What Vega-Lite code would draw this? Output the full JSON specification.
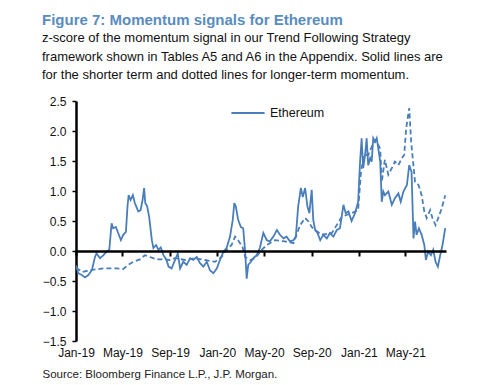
{
"$schema":"https://vega.github.io/schema/vega-lite/v6.json",
"width":370,"height":240,
"autosize":{"type":"none"},
"padding":{"left":76,"top":101,"right":54,"bottom":44},
"background":"white",
"config":{"view":{"stroke":null},"font":"Liberation Sans"},
"title":{"text":"Figure 7: Momentum signals for Ethereum","subtitle":["z-score of the momentum signal in our Trend Following Strategy","framework shown in Tables A5 and A6 in the Appendix. Solid lines are","for the shorter term and dotted lines for longer-term momentum."],"anchor":"start","frame":"group","dx":-34,"font":"Liberation Sans","fontSize":15,"fontWeight":"bold","color":"#5a8cc0","subtitleFont":"Liberation Sans","subtitleFontSize":13,"subtitleColor":"#111111","subtitlePadding":4,"subtitleLineHeight":18.3,"offset":13},
"data":{"values":[
{"date":"2019-01-01","value":-0.24,"term":"short","asset":"Ethereum"},
{"date":"2019-01-07","value":-0.37,"term":"short","asset":"Ethereum"},
{"date":"2019-01-16","value":-0.4,"term":"short","asset":"Ethereum"},
{"date":"2019-01-24","value":-0.44,"term":"short","asset":"Ethereum"},
{"date":"2019-02-02","value":-0.4,"term":"short","asset":"Ethereum"},
{"date":"2019-02-11","value":-0.32,"term":"short","asset":"Ethereum"},
{"date":"2019-02-19","value":-0.1,"term":"short","asset":"Ethereum"},
{"date":"2019-02-23","value":-0.04,"term":"short","asset":"Ethereum"},
{"date":"2019-03-04","value":-0.12,"term":"short","asset":"Ethereum"},
{"date":"2019-03-13","value":-0.07,"term":"short","asset":"Ethereum"},
{"date":"2019-03-21","value":-0.01,"term":"short","asset":"Ethereum"},
{"date":"2019-03-28","value":0.02,"term":"short","asset":"Ethereum"},
{"date":"2019-04-03","value":0.46,"term":"short","asset":"Ethereum"},
{"date":"2019-04-07","value":0.38,"term":"short","asset":"Ethereum"},
{"date":"2019-04-14","value":0.4,"term":"short","asset":"Ethereum"},
{"date":"2019-04-20","value":0.3,"term":"short","asset":"Ethereum"},
{"date":"2019-04-27","value":0.18,"term":"short","asset":"Ethereum"},
{"date":"2019-05-03","value":0.27,"term":"short","asset":"Ethereum"},
{"date":"2019-05-10","value":0.32,"term":"short","asset":"Ethereum"},
{"date":"2019-05-14","value":0.74,"term":"short","asset":"Ethereum"},
{"date":"2019-05-17","value":0.93,"term":"short","asset":"Ethereum"},
{"date":"2019-05-22","value":0.85,"term":"short","asset":"Ethereum"},
{"date":"2019-05-28","value":0.93,"term":"short","asset":"Ethereum"},
{"date":"2019-06-02","value":0.8,"term":"short","asset":"Ethereum"},
{"date":"2019-06-11","value":0.66,"term":"short","asset":"Ethereum"},
{"date":"2019-06-17","value":0.68,"term":"short","asset":"Ethereum"},
{"date":"2019-06-22","value":0.85,"term":"short","asset":"Ethereum"},
{"date":"2019-06-26","value":1.05,"term":"short","asset":"Ethereum"},
{"date":"2019-06-29","value":0.8,"term":"short","asset":"Ethereum"},
{"date":"2019-07-04","value":0.74,"term":"short","asset":"Ethereum"},
{"date":"2019-07-09","value":0.57,"term":"short","asset":"Ethereum"},
{"date":"2019-07-16","value":0.18,"term":"short","asset":"Ethereum"},
{"date":"2019-07-20","value":0.05,"term":"short","asset":"Ethereum"},
{"date":"2019-07-27","value":0.1,"term":"short","asset":"Ethereum"},
{"date":"2019-08-02","value":0.02,"term":"short","asset":"Ethereum"},
{"date":"2019-08-08","value":0.06,"term":"short","asset":"Ethereum"},
{"date":"2019-08-15","value":-0.07,"term":"short","asset":"Ethereum"},
{"date":"2019-08-23","value":-0.15,"term":"short","asset":"Ethereum"},
{"date":"2019-08-28","value":-0.26,"term":"short","asset":"Ethereum"},
{"date":"2019-09-05","value":-0.29,"term":"short","asset":"Ethereum"},
{"date":"2019-09-14","value":-0.15,"term":"short","asset":"Ethereum"},
{"date":"2019-09-21","value":-0.04,"term":"short","asset":"Ethereum"},
{"date":"2019-09-27","value":-0.29,"term":"short","asset":"Ethereum"},
{"date":"2019-10-05","value":-0.18,"term":"short","asset":"Ethereum"},
{"date":"2019-10-14","value":-0.23,"term":"short","asset":"Ethereum"},
{"date":"2019-10-23","value":-0.12,"term":"short","asset":"Ethereum"},
{"date":"2019-10-31","value":-0.15,"term":"short","asset":"Ethereum"},
{"date":"2019-11-09","value":-0.1,"term":"short","asset":"Ethereum"},
{"date":"2019-11-17","value":-0.2,"term":"short","asset":"Ethereum"},
{"date":"2019-11-26","value":-0.26,"term":"short","asset":"Ethereum"},
{"date":"2019-12-05","value":-0.18,"term":"short","asset":"Ethereum"},
{"date":"2019-12-13","value":-0.32,"term":"short","asset":"Ethereum"},
{"date":"2019-12-22","value":-0.37,"term":"short","asset":"Ethereum"},
{"date":"2019-12-31","value":-0.29,"term":"short","asset":"Ethereum"},
{"date":"2020-01-08","value":-0.15,"term":"short","asset":"Ethereum"},
{"date":"2020-01-17","value":-0.01,"term":"short","asset":"Ethereum"},
{"date":"2020-01-25","value":0.05,"term":"short","asset":"Ethereum"},
{"date":"2020-02-03","value":0.24,"term":"short","asset":"Ethereum"},
{"date":"2020-02-10","value":0.52,"term":"short","asset":"Ethereum"},
{"date":"2020-02-14","value":0.8,"term":"short","asset":"Ethereum"},
{"date":"2020-02-18","value":0.74,"term":"short","asset":"Ethereum"},
{"date":"2020-02-24","value":0.52,"term":"short","asset":"Ethereum"},
{"date":"2020-03-02","value":0.4,"term":"short","asset":"Ethereum"},
{"date":"2020-03-08","value":0.38,"term":"short","asset":"Ethereum"},
{"date":"2020-03-13","value":-0.01,"term":"short","asset":"Ethereum"},
{"date":"2020-03-17","value":-0.46,"term":"short","asset":"Ethereum"},
{"date":"2020-03-21","value":-0.23,"term":"short","asset":"Ethereum"},
{"date":"2020-03-28","value":-0.18,"term":"short","asset":"Ethereum"},
{"date":"2020-04-03","value":-0.12,"term":"short","asset":"Ethereum"},
{"date":"2020-04-12","value":-0.07,"term":"short","asset":"Ethereum"},
{"date":"2020-04-20","value":0.05,"term":"short","asset":"Ethereum"},
{"date":"2020-04-29","value":0.3,"term":"short","asset":"Ethereum"},
{"date":"2020-05-08","value":0.18,"term":"short","asset":"Ethereum"},
{"date":"2020-05-16","value":0.16,"term":"short","asset":"Ethereum"},
{"date":"2020-05-25","value":0.24,"term":"short","asset":"Ethereum"},
{"date":"2020-06-03","value":0.35,"term":"short","asset":"Ethereum"},
{"date":"2020-06-11","value":0.27,"term":"short","asset":"Ethereum"},
{"date":"2020-06-20","value":0.21,"term":"short","asset":"Ethereum"},
{"date":"2020-06-28","value":0.24,"term":"short","asset":"Ethereum"},
{"date":"2020-07-07","value":0.16,"term":"short","asset":"Ethereum"},
{"date":"2020-07-16","value":0.18,"term":"short","asset":"Ethereum"},
{"date":"2020-07-22","value":0.24,"term":"short","asset":"Ethereum"},
{"date":"2020-07-28","value":0.74,"term":"short","asset":"Ethereum"},
{"date":"2020-08-04","value":1.05,"term":"short","asset":"Ethereum"},
{"date":"2020-08-09","value":0.9,"term":"short","asset":"Ethereum"},
{"date":"2020-08-15","value":1.05,"term":"short","asset":"Ethereum"},
{"date":"2020-08-21","value":0.74,"term":"short","asset":"Ethereum"},
{"date":"2020-08-26","value":0.63,"term":"short","asset":"Ethereum"},
{"date":"2020-09-01","value":1.02,"term":"short","asset":"Ethereum"},
{"date":"2020-09-05","value":0.52,"term":"short","asset":"Ethereum"},
{"date":"2020-09-10","value":0.35,"term":"short","asset":"Ethereum"},
{"date":"2020-09-16","value":0.3,"term":"short","asset":"Ethereum"},
{"date":"2020-09-23","value":0.18,"term":"short","asset":"Ethereum"},
{"date":"2020-10-01","value":0.27,"term":"short","asset":"Ethereum"},
{"date":"2020-10-10","value":0.21,"term":"short","asset":"Ethereum"},
{"date":"2020-10-18","value":0.3,"term":"short","asset":"Ethereum"},
{"date":"2020-10-27","value":0.24,"term":"short","asset":"Ethereum"},
{"date":"2020-11-05","value":0.35,"term":"short","asset":"Ethereum"},
{"date":"2020-11-13","value":0.38,"term":"short","asset":"Ethereum"},
{"date":"2020-11-22","value":0.77,"term":"short","asset":"Ethereum"},
{"date":"2020-11-28","value":0.63,"term":"short","asset":"Ethereum"},
{"date":"2020-12-05","value":0.66,"term":"short","asset":"Ethereum"},
{"date":"2020-12-13","value":0.5,"term":"short","asset":"Ethereum"},
{"date":"2020-12-22","value":0.63,"term":"short","asset":"Ethereum"},
{"date":"2020-12-30","value":0.82,"term":"short","asset":"Ethereum"},
{"date":"2021-01-04","value":1.49,"term":"short","asset":"Ethereum"},
{"date":"2021-01-08","value":1.88,"term":"short","asset":"Ethereum"},
{"date":"2021-01-12","value":1.38,"term":"short","asset":"Ethereum"},
{"date":"2021-01-17","value":1.6,"term":"short","asset":"Ethereum"},
{"date":"2021-01-21","value":1.88,"term":"short","asset":"Ethereum"},
{"date":"2021-01-25","value":1.43,"term":"short","asset":"Ethereum"},
{"date":"2021-01-30","value":1.55,"term":"short","asset":"Ethereum"},
{"date":"2021-02-03","value":1.49,"term":"short","asset":"Ethereum"},
{"date":"2021-02-07","value":1.88,"term":"short","asset":"Ethereum"},
{"date":"2021-02-12","value":1.82,"term":"short","asset":"Ethereum"},
{"date":"2021-02-16","value":1.88,"term":"short","asset":"Ethereum"},
{"date":"2021-02-20","value":1.71,"term":"short","asset":"Ethereum"},
{"date":"2021-02-25","value":1.49,"term":"short","asset":"Ethereum"},
{"date":"2021-03-01","value":0.82,"term":"short","asset":"Ethereum"},
{"date":"2021-03-05","value":0.99,"term":"short","asset":"Ethereum"},
{"date":"2021-03-09","value":0.93,"term":"short","asset":"Ethereum"},
{"date":"2021-03-18","value":0.99,"term":"short","asset":"Ethereum"},
{"date":"2021-03-27","value":0.77,"term":"short","asset":"Ethereum"},
{"date":"2021-04-04","value":0.88,"term":"short","asset":"Ethereum"},
{"date":"2021-04-13","value":0.96,"term":"short","asset":"Ethereum"},
{"date":"2021-04-19","value":0.82,"term":"short","asset":"Ethereum"},
{"date":"2021-04-26","value":0.99,"term":"short","asset":"Ethereum"},
{"date":"2021-05-05","value":1.1,"term":"short","asset":"Ethereum"},
{"date":"2021-05-11","value":1.43,"term":"short","asset":"Ethereum"},
{"date":"2021-05-17","value":1.32,"term":"short","asset":"Ethereum"},
{"date":"2021-05-22","value":0.21,"term":"short","asset":"Ethereum"},
{"date":"2021-05-26","value":0.49,"term":"short","asset":"Ethereum"},
{"date":"2021-05-30","value":0.27,"term":"short","asset":"Ethereum"},
{"date":"2021-06-05","value":0.38,"term":"short","asset":"Ethereum"},
{"date":"2021-06-12","value":0.27,"term":"short","asset":"Ethereum"},
{"date":"2021-06-19","value":0.1,"term":"short","asset":"Ethereum"},
{"date":"2021-06-23","value":-0.15,"term":"short","asset":"Ethereum"},
{"date":"2021-06-29","value":-0.01,"term":"short","asset":"Ethereum"},
{"date":"2021-07-06","value":-0.07,"term":"short","asset":"Ethereum"},
{"date":"2021-07-12","value":0.02,"term":"short","asset":"Ethereum"},
{"date":"2021-07-18","value":-0.18,"term":"short","asset":"Ethereum"},
{"date":"2021-07-24","value":-0.26,"term":"short","asset":"Ethereum"},
{"date":"2021-07-30","value":-0.07,"term":"short","asset":"Ethereum"},
{"date":"2021-08-05","value":0.1,"term":"short","asset":"Ethereum"},
{"date":"2021-08-12","value":0.38,"term":"short","asset":"Ethereum"},
{"date":"2019-01-01","value":-0.28,"term":"long","asset":"Ethereum"},
{"date":"2019-01-17","value":-0.35,"term":"long","asset":"Ethereum"},
{"date":"2019-02-06","value":-0.32,"term":"long","asset":"Ethereum"},
{"date":"2019-03-13","value":-0.29,"term":"long","asset":"Ethereum"},
{"date":"2019-04-16","value":-0.29,"term":"long","asset":"Ethereum"},
{"date":"2019-05-03","value":-0.3,"term":"long","asset":"Ethereum"},
{"date":"2019-05-16","value":-0.23,"term":"long","asset":"Ethereum"},
{"date":"2019-05-29","value":-0.18,"term":"long","asset":"Ethereum"},
{"date":"2019-06-15","value":-0.14,"term":"long","asset":"Ethereum"},
{"date":"2019-06-28","value":-0.07,"term":"long","asset":"Ethereum"},
{"date":"2019-07-11","value":-0.1,"term":"long","asset":"Ethereum"},
{"date":"2019-07-29","value":-0.14,"term":"long","asset":"Ethereum"},
{"date":"2019-08-15","value":-0.14,"term":"long","asset":"Ethereum"},
{"date":"2019-09-01","value":-0.15,"term":"long","asset":"Ethereum"},
{"date":"2019-09-14","value":-0.12,"term":"long","asset":"Ethereum"},
{"date":"2019-10-10","value":-0.15,"term":"long","asset":"Ethereum"},
{"date":"2019-11-04","value":-0.12,"term":"long","asset":"Ethereum"},
{"date":"2019-11-30","value":-0.15,"term":"long","asset":"Ethereum"},
{"date":"2019-12-26","value":-0.18,"term":"long","asset":"Ethereum"},
{"date":"2020-01-12","value":-0.1,"term":"long","asset":"Ethereum"},
{"date":"2020-01-25","value":0.02,"term":"long","asset":"Ethereum"},
{"date":"2020-02-07","value":0.1,"term":"long","asset":"Ethereum"},
{"date":"2020-02-16","value":0.24,"term":"long","asset":"Ethereum"},
{"date":"2020-02-24","value":0.18,"term":"long","asset":"Ethereum"},
{"date":"2020-03-06","value":0.07,"term":"long","asset":"Ethereum"},
{"date":"2020-03-13","value":-0.1,"term":"long","asset":"Ethereum"},
{"date":"2020-03-26","value":-0.15,"term":"long","asset":"Ethereum"},
{"date":"2020-04-08","value":-0.12,"term":"long","asset":"Ethereum"},
{"date":"2020-04-25","value":0.02,"term":"long","asset":"Ethereum"},
{"date":"2020-05-08","value":0.1,"term":"long","asset":"Ethereum"},
{"date":"2020-05-29","value":0.18,"term":"long","asset":"Ethereum"},
{"date":"2020-06-24","value":0.16,"term":"long","asset":"Ethereum"},
{"date":"2020-07-16","value":0.13,"term":"long","asset":"Ethereum"},
{"date":"2020-08-02","value":0.43,"term":"long","asset":"Ethereum"},
{"date":"2020-08-15","value":0.55,"term":"long","asset":"Ethereum"},
{"date":"2020-08-24","value":0.49,"term":"long","asset":"Ethereum"},
{"date":"2020-09-01","value":0.4,"term":"long","asset":"Ethereum"},
{"date":"2020-09-10","value":0.35,"term":"long","asset":"Ethereum"},
{"date":"2020-09-27","value":0.27,"term":"long","asset":"Ethereum"},
{"date":"2020-10-23","value":0.3,"term":"long","asset":"Ethereum"},
{"date":"2020-11-18","value":0.57,"term":"long","asset":"Ethereum"},
{"date":"2020-12-13","value":0.63,"term":"long","asset":"Ethereum"},
{"date":"2020-12-30","value":0.68,"term":"long","asset":"Ethereum"},
{"date":"2021-01-06","value":1.3,"term":"long","asset":"Ethereum"},
{"date":"2021-01-14","value":1.6,"term":"long","asset":"Ethereum"},
{"date":"2021-01-25","value":1.6,"term":"long","asset":"Ethereum"},
{"date":"2021-02-04","value":1.75,"term":"long","asset":"Ethereum"},
{"date":"2021-02-14","value":1.85,"term":"long","asset":"Ethereum"},
{"date":"2021-02-25","value":1.7,"term":"long","asset":"Ethereum"},
{"date":"2021-03-01","value":1.15,"term":"long","asset":"Ethereum"},
{"date":"2021-03-09","value":1.52,"term":"long","asset":"Ethereum"},
{"date":"2021-03-18","value":1.27,"term":"long","asset":"Ethereum"},
{"date":"2021-03-27","value":1.38,"term":"long","asset":"Ethereum"},
{"date":"2021-04-04","value":1.49,"term":"long","asset":"Ethereum"},
{"date":"2021-04-13","value":1.43,"term":"long","asset":"Ethereum"},
{"date":"2021-04-22","value":1.55,"term":"long","asset":"Ethereum"},
{"date":"2021-04-28","value":1.6,"term":"long","asset":"Ethereum"},
{"date":"2021-05-03","value":2.04,"term":"long","asset":"Ethereum"},
{"date":"2021-05-07","value":2.21,"term":"long","asset":"Ethereum"},
{"date":"2021-05-11","value":2.38,"term":"long","asset":"Ethereum"},
{"date":"2021-05-16","value":1.82,"term":"long","asset":"Ethereum"},
{"date":"2021-05-20","value":1.55,"term":"long","asset":"Ethereum"},
{"date":"2021-05-26","value":1.15,"term":"long","asset":"Ethereum"},
{"date":"2021-06-04","value":1.1,"term":"long","asset":"Ethereum"},
{"date":"2021-06-12","value":0.93,"term":"long","asset":"Ethereum"},
{"date":"2021-06-19","value":0.66,"term":"long","asset":"Ethereum"},
{"date":"2021-06-25","value":0.55,"term":"long","asset":"Ethereum"},
{"date":"2021-07-04","value":0.68,"term":"long","asset":"Ethereum"},
{"date":"2021-07-10","value":0.55,"term":"long","asset":"Ethereum"},
{"date":"2021-07-18","value":0.43,"term":"long","asset":"Ethereum"},
{"date":"2021-07-25","value":0.55,"term":"long","asset":"Ethereum"},
{"date":"2021-08-03","value":0.71,"term":"long","asset":"Ethereum"},
{"date":"2021-08-12","value":0.93,"term":"long","asset":"Ethereum"}
]},
"encoding":{
  "y":{"field":"value","type":"quantitative","scale":{"domain":[-1.5,2.5],"nice":false,"zero":false},
   "axis":{"values":[-1.5,-1.0,-0.5,0.0,0.5,1.0,1.5,2.0,2.5],"format":".1f","grid":false,"domainColor":"#000000","domainWidth":2.5,"tickColor":"#000000","tickWidth":1.5,"tickSize":4,"labelPadding":6,"labelFont":"Liberation Sans","labelFontSize":12,"labelColor":"#111111","labelFlush":false,"labelOverlap":false,"labelBound":false,"title":null}},
  "color":{"field":"asset","type":"nominal","scale":{"range":["#4a7ebb"]},
   "legend":{"title":null,"orient":"none","legendX":154,"legendY":-6,"symbolType":"stroke","symbolSize":1100,"symbolStrokeWidth":2,"labelFont":"Liberation Sans","labelFontSize":12.5,"labelColor":"#111111","labelOffset":4}}
},
"layer":[
{"transform":[{"filter":"datum.term === 'short'"}],
 "mark":{"type":"line","strokeWidth":1.8,"clip":true},
 "encoding":{
  "x":{"field":"date","type":"temporal","scale":{"domain":[{"year":2019,"month":1,"date":1},{"year":2021,"month":8,"date":14}],"nice":false},
   "axis":{"values":[{"year":2019,"month":1,"date":1},{"year":2019,"month":5,"date":1},{"year":2019,"month":9,"date":1},{"year":2020,"month":1,"date":1},{"year":2020,"month":5,"date":1},{"year":2020,"month":9,"date":1},{"year":2021,"month":1,"date":1},{"year":2021,"month":5,"date":1}],"format":"%b-%y","domain":false,"ticks":false,"grid":false,"labelFont":"Liberation Sans","labelFontSize":12,"labelColor":"#111111","labelPadding":6,"labelFlush":false,"labelOverlap":false,"title":"Source: Bloomberg Finance L.P., J.P. Morgan.","titleFont":"Liberation Sans","titleFontSize":11.5,"titleFontWeight":"normal","titleColor":"#222222","titleAnchor":"start","titleAlign":"left","titleX":-34,"titleY":36,"titleBaseline":"alphabetic"}}
 }},
{"transform":[{"filter":"datum.term === 'long'"}],
 "mark":{"type":"line","strokeWidth":1.8,"strokeDash":[5,3],"clip":true},
 "encoding":{
  "x":{"field":"date","type":"temporal",
   "axis":{"values":[{"year":2019,"month":1,"date":1},{"year":2019,"month":5,"date":1},{"year":2019,"month":9,"date":1},{"year":2020,"month":1,"date":1},{"year":2020,"month":5,"date":1},{"year":2020,"month":9,"date":1},{"year":2021,"month":1,"date":1},{"year":2021,"month":5,"date":1}],"orient":"bottom","offset":-90,"labels":false,"grid":false,"domainColor":"#000000","domainWidth":2.5,"tickColor":"#000000","tickWidth":2,"tickSize":5,"title":null,"zindex":1}}
 }}
],
"resolve":{"axis":{"x":"independent"}}
}
